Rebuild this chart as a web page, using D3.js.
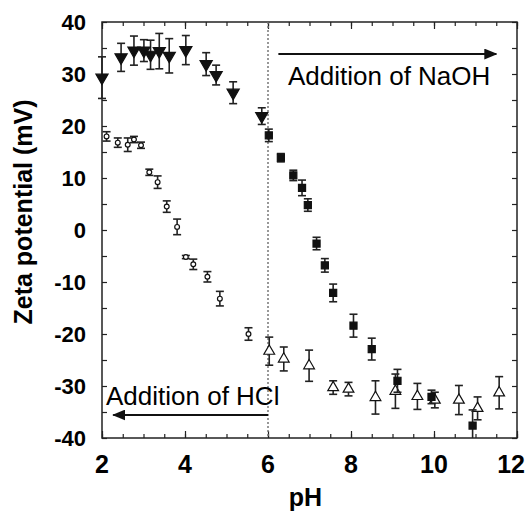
<!DOCTYPE html>
<html>
<head>
<meta charset="utf-8">
<script src="https://cdn.jsdelivr.net/npm/d3@7"></script>
<style>
  body { margin: 0; background: #fff; }
  svg { display: block; font-family: 'Liberation Sans', Arial, sans-serif; }
</style>
</head>
<body>
<div id="chart"></div>
<script>
// down triangles (filled) - acid side
const phDown = [2.0, 2.46, 2.77, 3.01, 3.17, 3.38, 3.62, 4.02, 4.51, 4.75, 5.16, 5.85];
const zetaDown = [29.3, 33.2, 34.5, 34.5, 33.7, 34.4, 33.5, 34.6, 31.9, 29.8, 26.4, 21.9];
const errDown = [4.0, 2.7, 2.8, 2.1, 2.8, 3.4, 3.3, 2.8, 2.2, 1.9, 2.1, 1.6];

// filled squares - NaOH side
const phSquare = [6.02, 6.31, 6.61, 6.82, 6.96, 7.17, 7.37, 7.57, 8.06, 8.50, 9.12, 9.94, 10.93];
const zetaSquare = [18.2, 13.9, 10.5, 8.1, 4.8, -2.6, -6.8, -12.1, -18.4, -22.9, -29.0, -32.1, -37.6];
const errSquare = [1.2, 0.8, 1.0, 1.5, 1.2, 1.2, 1.3, 1.7, 2.2, 2.1, 2.2, 1.3, 3.0];

// open circles
const phCircle = [2.11, 2.38, 2.62, 2.77, 2.94, 3.14, 3.34, 3.56, 3.81, 4.02, 4.20, 4.54, 4.84, 5.53];
const zetaCircle = [18.0, 16.8, 16.4, 17.4, 16.3, 11.1, 9.2, 4.5, 0.6, -5.2, -6.6, -9.0, -13.2, -20.0];
const errCircle = [0.9, 0.9, 1.3, 0.6, 0.6, 0.6, 1.2, 1.1, 1.5, 0.3, 1.0, 1.0, 1.4, 1.2];

// open triangles
const phUp = [6.03, 6.38, 6.99, 7.57, 7.94, 8.59, 9.07, 9.60, 10.02, 10.60, 11.05, 11.57];
const zetaUp = [-23.3, -24.8, -26.1, -30.3, -30.6, -32.2, -31.0, -32.0, -32.7, -32.7, -34.3, -31.3];
const errUp = [2.7, 2.3, 3.0, 1.3, 1.3, 3.2, 3.3, 2.5, 1.5, 2.8, 2.2, 3.1];

const xTicks = [2, 4, 6, 8, 10, 12];
const yTicks = [-40, -30, -20, -10, 0, 10, 20, 30, 40];

const width = 526, height = 512;
const margin = { top: 22, right: 9, bottom: 74, left: 102 };

const svg = d3.select('#chart').append('svg')
  .attr('width', width)
  .attr('height', height);

const x = d3.scaleLinear().domain([2, 12]).range([margin.left, width - margin.right]);
const y = d3.scaleLinear().domain([-40, 40]).range([height - margin.bottom, margin.top]);

const minorX = d3.range(2, 12.01, 0.5);
const minorY = d3.range(-40, 40.01, 5);

// inward ticks on all four sides
function tickAxis(axisFn, scale, ticks, size, pos) {
  return svg.append('g')
    .attr('transform', pos)
    .call(axisFn(scale).tickValues(ticks).tickSize(size).tickFormat(''))
    .call(g => g.select('.domain').remove())
    .call(g => g.selectAll('line').attr('stroke', '#222').attr('stroke-width', 1.2));
}
const bottomY = height - margin.bottom, rightX = width - margin.right;
tickAxis(d3.axisBottom, x, minorX, -4, `translate(0,${bottomY})`);
tickAxis(d3.axisBottom, x, xTicks, -7, `translate(0,${bottomY})`);
tickAxis(d3.axisTop, x, minorX, -4, `translate(0,${margin.top})`);
tickAxis(d3.axisTop, x, xTicks, -7, `translate(0,${margin.top})`);
tickAxis(d3.axisLeft, y, minorY, -5, `translate(${margin.left},0)`);
tickAxis(d3.axisRight, y, minorY, -5, `translate(${rightX},0)`);

svg.append('rect')
  .attr('x', margin.left).attr('y', margin.top)
  .attr('width', rightX - margin.left).attr('height', bottomY - margin.top)
  .attr('fill', 'none').attr('stroke', '#222').attr('stroke-width', 1.5);

// tick labels
svg.append('g').selectAll('text').data(yTicks).join('text')
  .attr('x', 86).attr('y', d => y(d) + 8)
  .attr('text-anchor', 'end')
  .style('font-size', '22px').style('font-weight', 'bold')
  .text(d => d);

// last label pulled in so it stays on the page
svg.append('g').selectAll('text').data(xTicks).join('text')
  .attr('x', d => d === 12 ? width - 1 : x(d)).attr('y', 473)
  .attr('text-anchor', d => d === 12 ? 'end' : 'middle')
  .style('font-size', '25px').style('font-weight', 'bold')
  .text(d => d);

svg.append('text')
  .attr('transform', `translate(32,212) rotate(-90)`)
  .attr('text-anchor', 'middle')
  .style('font-size', '25px').style('font-weight', 'bold')
  .text('Zeta potential (mV)');

svg.append('text')
  .attr('x', x(7) - 4).attr('y', 506)
  .attr('text-anchor', 'middle')
  .style('font-size', '25px').style('font-weight', 'bold')
  .text('pH');

// dotted line at pH 6
svg.append('line')
  .attr('x1', x(6)).attr('x2', x(6))
  .attr('y1', margin.top).attr('y2', bottomY)
  .attr('stroke', '#777').attr('stroke-width', 1.5)
  .attr('stroke-dasharray', '2,2');

// arrows
svg.append('defs').append('marker')
  .attr('id', 'arrow')
  .attr('viewBox', '0 0 12 10')
  .attr('refX', 11).attr('refY', 5)
  .attr('markerWidth', 13).attr('markerHeight', 11)
  .attr('markerUnits', 'userSpaceOnUse')
  .attr('orient', 'auto')
  .append('path').attr('d', 'M0,0L12,5L0,10Z').attr('fill', '#111');

svg.append('line')
  .attr('x1', x(6.25)).attr('x2', x(11.5)).attr('y1', 54).attr('y2', 54)
  .attr('stroke', '#111').attr('stroke-width', 2).attr('marker-end', 'url(#arrow)');
svg.append('text')
  .attr('x', 288).attr('y', 85)
  .style('font-size', '26px')
  .text('Addition of NaOH');

svg.append('line')
  .attr('x1', x(6)).attr('x2', x(2.27)).attr('y1', 415).attr('y2', 415)
  .attr('stroke', '#111').attr('stroke-width', 2).attr('marker-end', 'url(#arrow)');
svg.append('text')
  .attr('x', 106).attr('y', 405)
  .style('font-size', '26px')
  .text('Addition of HCl');

// series
const series = [
  { ph: phDown, zeta: zetaDown, err: errDown, sym: d3.symbolTriangle, size: 64, fill: '#111', rot: 180 },
  { ph: phCircle, zeta: zetaCircle, err: errCircle, sym: d3.symbolCircle, size: 18, fill: '#fff', rot: 0 },
  { ph: phUp, zeta: zetaUp, err: errUp, sym: d3.symbolTriangle, size: 50, fill: '#fff', rot: 0 },
  { ph: phSquare, zeta: zetaSquare, err: errSquare, sym: d3.symbolSquare, size: 50, fill: '#111', rot: 0 }
];

series.forEach(s => {
  const pts = s.ph.map((p, i) => ({ p, z: s.zeta[i], e: s.err[i] }));
  const g = svg.append('g');
  const eb = g.selectAll('g.eb').data(pts).join('g').attr('class', 'eb')
    .attr('stroke', '#222').attr('stroke-width', 1.6);
  eb.append('line')
    .attr('x1', d => x(d.p)).attr('x2', d => x(d.p))
    .attr('y1', d => y(Math.min(40, d.z + d.e))).attr('y2', d => y(Math.max(-40, d.z - d.e)));
  eb.append('line')
    .attr('x1', d => x(d.p) - 4).attr('x2', d => x(d.p) + 4)
    .attr('y1', d => y(d.z + d.e)).attr('y2', d => y(d.z + d.e));
  eb.filter(d => d.z - d.e > -40).append('line')
    .attr('x1', d => x(d.p) - 4).attr('x2', d => x(d.p) + 4)
    .attr('y1', d => y(d.z - d.e)).attr('y2', d => y(d.z - d.e));
  g.selectAll('path.m').data(pts).join('path').attr('class', 'm')
    .attr('d', d3.symbol().type(s.sym).size(s.size))
    .attr('transform', d => `translate(${x(d.p)},${y(d.z)}) rotate(${s.rot})`)
    .attr('fill', s.fill).attr('stroke', '#111').attr('stroke-width', 1.2);
});
</script>
</body>
</html>
